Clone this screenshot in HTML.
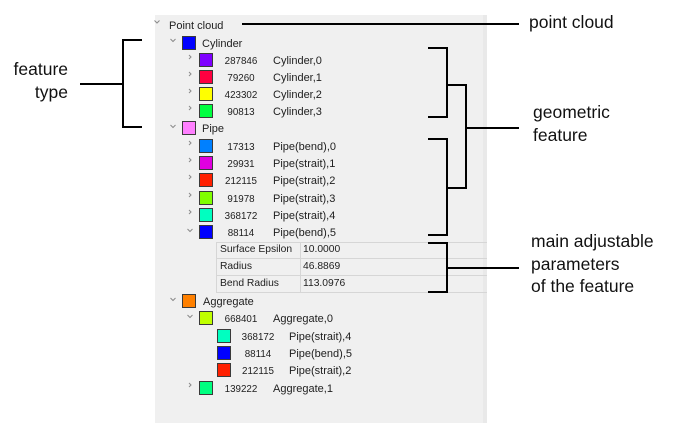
<!DOCTYPE html>
<html><head><meta charset="utf-8">
<style>
html,body{margin:0;padding:0;background:#fff;}
body{width:680px;height:434px;position:relative;overflow:hidden;font-family:"Liberation Sans",sans-serif;}
.panel{position:absolute;left:155px;top:15px;width:332px;height:408px;background:#f0f0f0;}
.strip{position:absolute;left:483px;top:15px;width:4px;height:408px;background:#e9e9e9;}
.t{position:absolute;font-size:11px;line-height:16px;height:16px;color:#1e1e1e;white-space:nowrap;margin-top:1.5px;}
.n{position:absolute;font-size:9.8px;line-height:16px;height:16px;color:#1e1e1e;white-space:nowrap;text-align:center;width:40px;margin-top:2px;}
.tb{font-size:10.3px;margin-top:1px;}
.sq{position:absolute;width:14px;height:14px;box-sizing:border-box;border:1px solid #3a3a3a;}
.big{position:absolute;font-size:17.5px;line-height:22.5px;color:#111;white-space:nowrap;}
.tbl{position:absolute;left:216px;top:242px;width:271px;height:50px;}
.tr{position:absolute;left:0;width:271px;height:16px;border-top:1px solid #d6d6d6;}
</style></head><body>
<div class="panel"></div>
<div class="strip"></div>

<!-- table -->
<div class="tbl">
  <div class="tr" style="top:0"></div>
  <div class="tr" style="top:16px"></div>
  <div class="tr" style="top:33px;border-bottom:1px solid #d6d6d6;"></div>
  <div style="position:absolute;left:0;top:0;width:1px;height:51px;background:#d6d6d6"></div>
  <div style="position:absolute;left:84px;top:0;width:1px;height:51px;background:#d6d6d6"></div>
</div>

<!-- tree text -->
<div class="t" style="left:169px;top:16px">Point cloud</div>

<div class="sq" style="left:182px;top:36px;background:#0000ff"></div>
<div class="t" style="left:202px;top:34px">Cylinder</div>

<div class="sq" style="left:199px;top:53px;background:#7f00ff"></div>
<div class="n" style="left:221px;top:52px">287846</div>
<div class="t" style="left:273px;top:51px">Cylinder,0</div>

<div class="sq" style="left:199px;top:70px;background:#ff0040"></div>
<div class="n" style="left:221px;top:69px">79260</div>
<div class="t" style="left:273px;top:68px">Cylinder,1</div>

<div class="sq" style="left:199px;top:87px;background:#ffff00"></div>
<div class="n" style="left:221px;top:86px">423302</div>
<div class="t" style="left:273px;top:85px">Cylinder,2</div>

<div class="sq" style="left:199px;top:104px;background:#00ff40"></div>
<div class="n" style="left:221px;top:103px">90813</div>
<div class="t" style="left:273px;top:102px">Cylinder,3</div>

<div class="sq" style="left:182px;top:121px;background:#ff80ff"></div>
<div class="t" style="left:202px;top:119px">Pipe</div>

<div class="sq" style="left:199px;top:139px;background:#0080ff"></div>
<div class="n" style="left:221px;top:138px">17313</div>
<div class="t" style="left:273px;top:137px">Pipe(bend),0</div>

<div class="sq" style="left:199px;top:156px;background:#e000e0"></div>
<div class="n" style="left:221px;top:155px">29931</div>
<div class="t" style="left:273px;top:154px">Pipe(strait),1</div>

<div class="sq" style="left:199px;top:173px;background:#ff2000"></div>
<div class="n" style="left:221px;top:172px">212115</div>
<div class="t" style="left:273px;top:171px">Pipe(strait),2</div>

<div class="sq" style="left:199px;top:191px;background:#80ff00"></div>
<div class="n" style="left:221px;top:190px">91978</div>
<div class="t" style="left:273px;top:189px">Pipe(strait),3</div>

<div class="sq" style="left:199px;top:208px;background:#00ffc0"></div>
<div class="n" style="left:221px;top:207px">368172</div>
<div class="t" style="left:273px;top:206px">Pipe(strait),4</div>

<div class="sq" style="left:199px;top:225px;background:#0000ff"></div>
<div class="n" style="left:221px;top:224px">88114</div>
<div class="t" style="left:273px;top:223px">Pipe(bend),5</div>

<div class="t tb" style="left:220px;top:241px">Surface Epsilon</div>
<div class="t tb" style="left:303px;top:241px">10.0000</div>
<div class="t tb" style="left:220px;top:258px">Radius</div>
<div class="t tb" style="left:303px;top:258px">46.8869</div>
<div class="t tb" style="left:220px;top:275px">Bend Radius</div>
<div class="t tb" style="left:303px;top:275px">113.0976</div>

<div class="sq" style="left:182px;top:294px;background:#ff8000"></div>
<div class="t" style="left:203px;top:292px">Aggregate</div>

<div class="sq" style="left:199px;top:311px;background:#c0ff00"></div>
<div class="n" style="left:221px;top:310px">668401</div>
<div class="t" style="left:273px;top:309px">Aggregate,0</div>

<div class="sq" style="left:217px;top:329px;background:#00ffc0"></div>
<div class="n" style="left:238px;top:328px">368172</div>
<div class="t" style="left:289px;top:327px">Pipe(strait),4</div>

<div class="sq" style="left:217px;top:346px;background:#0000ff"></div>
<div class="n" style="left:238px;top:345px">88114</div>
<div class="t" style="left:289px;top:344px">Pipe(bend),5</div>

<div class="sq" style="left:217px;top:363px;background:#ff2000"></div>
<div class="n" style="left:238px;top:362px">212115</div>
<div class="t" style="left:289px;top:361px">Pipe(strait),2</div>

<div class="sq" style="left:199px;top:381px;background:#00ff80"></div>
<div class="n" style="left:221px;top:380px">139222</div>
<div class="t" style="left:273px;top:379px">Aggregate,1</div>

<!-- annotations -->
<div class="big" style="left:529px;top:11px">point cloud</div>
<div class="big" style="left:533px;top:101px;line-height:23px">geometric<br>feature</div>
<div class="big" style="left:531px;top:230px">main adjustable<br>parameters<br>of the feature</div>
<div class="big" style="left:0;width:68px;text-align:right;top:58px;line-height:23px">feature<br>type</div>

<svg width="680" height="434" style="position:absolute;left:0;top:0" xmlns="http://www.w3.org/2000/svg">
  <g fill="none" stroke="#8a8a8a" stroke-width="1">
    <polyline points="154.5,20.5 157,23 159.5,20.5"/>
    <polyline points="170.5,39 173,41.5 175.5,39"/>
    <polyline points="170.5,125 173,127.5 175.5,125"/>
    <polyline points="170.5,298 173,300.5 175.5,298"/>
    <polyline points="187.5,229 190,231.5 192.5,229"/>
    <polyline points="187.5,315 190,317.5 192.5,315"/>
    <polyline points="189,55 191,57 189,59"/>
    <polyline points="189,72 191,74 189,76"/>
    <polyline points="189,89 191,91 189,93"/>
    <polyline points="189,106 191,108 189,110"/>
    <polyline points="189,141 191,143 189,145"/>
    <polyline points="189,158 191,160 189,162"/>
    <polyline points="189,175 191,177 189,179"/>
    <polyline points="189,193 191,195 189,197"/>
    <polyline points="189,210 191,212 189,214"/>
    <polyline points="189,383 191,385 189,387"/>
  </g>
  <g fill="none" stroke="#000" stroke-width="2" stroke-linecap="square">
    <line x1="243" y1="24" x2="518" y2="24"/>
    <polyline points="141,40 123,40 123,127 141,127"/>
    <line x1="81" y1="84" x2="123" y2="84"/>
    <polyline points="429,48 447,48 447,117 429,117"/>
    <line x1="447" y1="85" x2="466" y2="85"/>
    <polyline points="429,139 447,139 447,235 429,235"/>
    <line x1="447" y1="188" x2="466" y2="188"/>
    <line x1="466" y1="85" x2="466" y2="188"/>
    <line x1="466" y1="128" x2="518" y2="128"/>
    <polyline points="429,243 447,243 447,292 429,292"/>
    <line x1="447" y1="268" x2="518" y2="268"/>
  </g>
</svg>
</body></html>
